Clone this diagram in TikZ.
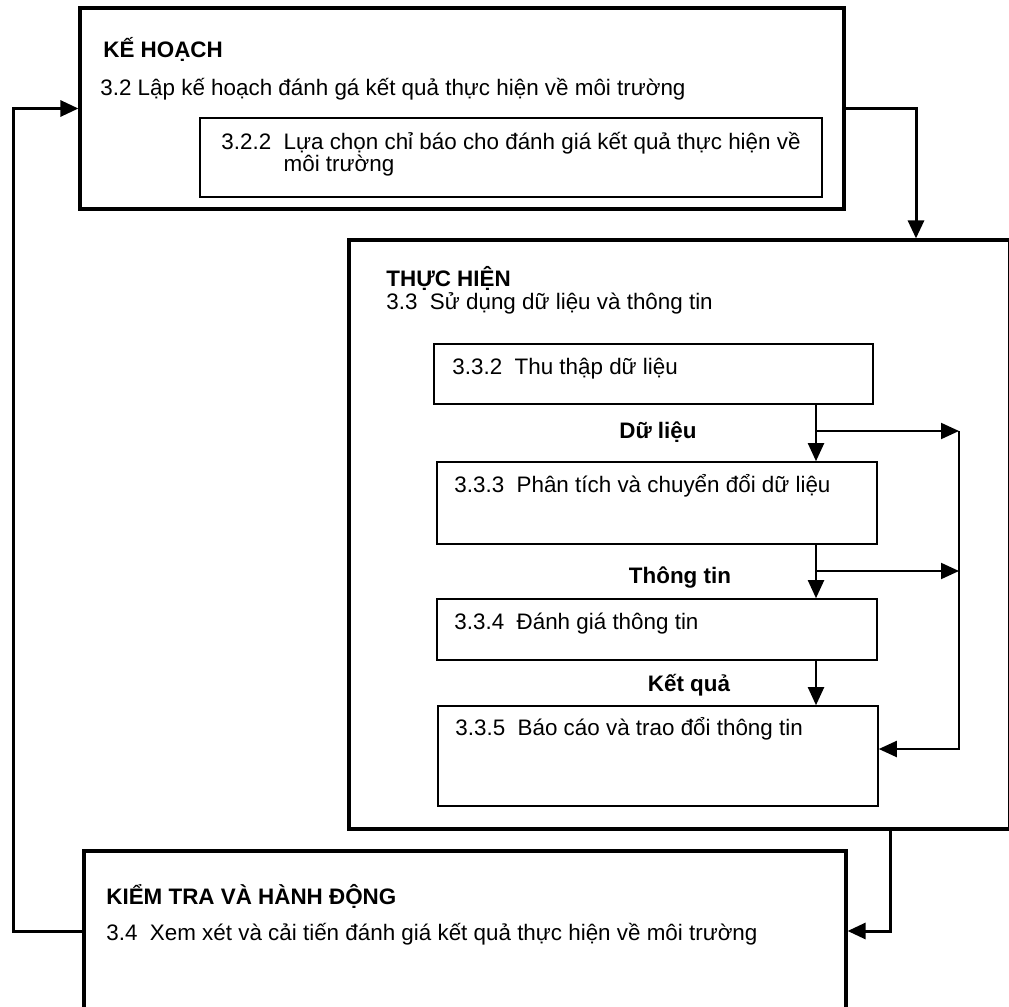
\documentclass[tikz,border=0pt]{standalone}
\usepackage{fontspec}
\setmainfont{Liberation Sans}
\usetikzlibrary{arrows.meta,fit}

\tikzset{
  bigbox/.style={draw,line width=1.6pt,inner sep=0pt},
  smallbox/.style={draw,line width=0.8pt,inner sep=0pt},
  txt/.style={anchor=base west,inner sep=0pt},
  lbl/.style={anchor=base,inner sep=0pt,font=\bfseries},
  flow/.style={line width=1.5pt,-{Triangle[length=9pt,width=8pt]}},
  subflow/.style={line width=1pt,-{Triangle[length=9pt,width=8pt]}},
}

\begin{document}
\fontsize{11.2}{13.5}\selectfont
\begin{tikzpicture}[x=0.5pt,y=-0.5pt]
\useasboundingbox (0,0) rectangle (1009,1007);
\clip (0,0) rectangle (1009,1007);
\node[bigbox,fit={(80,8) (844,209)}] (plan) {};
\node[smallbox,fit={(200,118) (822,197)}] (select) {};
\node[bigbox,fit={(349,240) (1009.5,829)}] (do) {};
\node[smallbox,fit={(434,344) (873,404)}] (collect) {};
\node[smallbox,fit={(437,462) (877,544)}] (analyse) {};
\node[smallbox,fit={(437,599) (877,660)}] (assess) {};
\node[smallbox,fit={(438,706) (878,806)}] (report) {};
\node[bigbox,fit={(84,851) (846,1011)}] (check) {};
\coordinate (spine) at (816,0);
\coordinate (rail) at (959,0);
\coordinate (lrail) at (13,0);
\coordinate (drop) at (916,0);
\coordinate (exit) at (890,0);
\coordinate (tap1) at (0,431);
\coordinate (tap2) at (0,571);
\coordinate (rin) at (0,749);
\node[txt] (planhead) at (103,57) {\bfseries KẾ HOẠCH};
\node[txt] (plantitle) at (100,95) {3.2 Lập kế hoạch đánh gá kết quả thực hiện về môi trường};
\node[txt] (selone) at (221,149) {3.2.2\ \ Lựa chọn chỉ báo cho đánh giá kết quả thực hiện về};
\node[txt] (seltwo) at (221,171) {\phantom{3.2.2\ \ }môi trường};
\node[txt] (dohead) at (386,286) {\bfseries THỰC HIỆN};
\node[txt] (dotitle) at (386,309) {3.3\ \ Sử dụng dữ liệu và thông tin};
\node[txt] (collecttxt) at (452,374) {3.3.2\ \ Thu thập dữ liệu};
\node[txt] (analysetxt) at (454,492) {3.3.3\ \ Phân tích và chuyển đổi dữ liệu};
\node[txt] (assesstxt) at (454,629) {3.3.4\ \ Đánh giá thông tin};
\node[txt] (reporttxt) at (455,735) {3.3.5\ \ Báo cáo và trao đổi thông tin};
\node[lbl] (data) at (658,438) {Dữ liệu};
\node[lbl] (info) at (680,583) {Thông tin};
\node[lbl] (result) at (689,691) {Kết quả};
\node[txt] (checkhead) at (106,904) {\bfseries KIỂM TRA VÀ HÀNH ĐỘNG};
\node[txt] (checktitle) at (106,940) {3.4\ \ Xem xét và cải tiến đánh giá kết quả thực hiện về môi trường};
\draw[flow] (plan.east) -| (drop |- do.north);
\draw[flow] (exit |- do.south) |- (check.east);
\draw[flow] (check.west) -- (lrail |- check.west) -- (lrail |- plan.west) -- (plan.west);
\draw[subflow] (spine |- collect.south) -- (spine |- analyse.north);
\draw[subflow] (spine |- tap1) -- (rail |- tap1);
\draw[subflow] (spine |- analyse.south) -- (spine |- assess.north);
\draw[subflow] (spine |- tap2) -- (rail |- tap2);
\draw[subflow] (spine |- assess.south) -- (spine |- report.north);
\draw[subflow] (rail |- tap1) -- (rail |- rin) -- (report.east |- rin);
\end{tikzpicture}
\end{document}
